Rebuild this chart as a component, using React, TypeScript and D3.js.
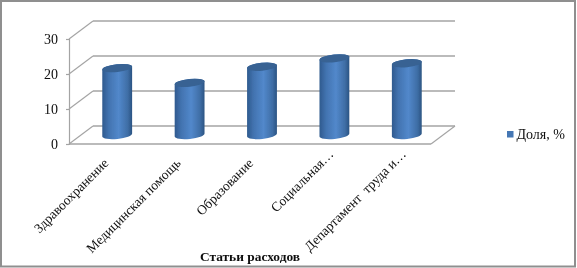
import React, { useRef, useEffect } from "react"
import * as d3 from "d3"

const categories = ["Здравоохранение", "Медицинская помощь", "Образование", "Социальная…", "Департамент  труда и…"]
const shares = [19.1, 14.9, 19.5, 21.9, 20.5]
const yTicks = [0, 10, 20, 30]
const seriesName = "Доля, %"
const axisTitle = "Статьи расходов"

const width = 577
const height = 268
const serif = "'Liberation Serif', serif"
const gridColor = "#a4a4a4"

export default function App() {
    const svgRef = useRef<SVGSVGElement>(null)

    useEffect(() => {
        const svg = d3.select(svgRef.current)
        svg.selectAll("*").remove()

        // front plane of the 3d box and its depth offset
        const left = 69
        const right = 431
        const bottom = 144
        const top = 39
        const depthX = 24
        const depthY = -18

        const xScale = d3.scaleBand().domain(categories).range([left + depthX / 2, right + depthX / 2])
        const yScale = d3.scaleLinear().domain([0, 30]).range([bottom, top])

        const defs = svg.append("defs")
        const grad = defs.append("linearGradient").attr("id", "cyl").attr("x1", 0).attr("x2", 1).attr("y1", 0).attr("y2", 0)
        grad.append("stop").attr("offset", "0%").attr("stop-color", "#2f5a8e")
        grad.append("stop").attr("offset", "22%").attr("stop-color", "#4273b0")
        grad.append("stop").attr("offset", "55%").attr("stop-color", "#5288cb")
        grad.append("stop").attr("offset", "85%").attr("stop-color", "#3f6ea6")
        grad.append("stop").attr("offset", "100%").attr("stop-color", "#2b5483")
        defs.append("filter").attr("id", "soft").append("feGaussianBlur").attr("stdDeviation", 0.35)

        svg.append("rect")
            .attr("x", 1).attr("y", 1)
            .attr("width", 574).attr("height", 265.5)
            .attr("fill", "#fff").attr("stroke", "#8f8f8f").attr("stroke-width", 2)

        const plot = svg.append("g").attr("filter", "url(#soft)")

        // back wall lines and the diagonals on the side wall
        plot.append("g").selectAll("line.back")
            .data(yTicks)
            .join("line")
            .attr("x1", left + depthX).attr("x2", right + depthX)
            .attr("y1", d => yScale(d) + depthY).attr("y2", d => yScale(d) + depthY)
            .attr("stroke", gridColor).attr("stroke-width", 1.7)

        plot.append("g").selectAll("line.side")
            .data(yTicks)
            .join("line")
            .attr("x1", left).attr("x2", left + depthX)
            .attr("y1", d => yScale(d)).attr("y2", d => yScale(d) + depthY)
            .attr("stroke", gridColor).attr("stroke-width", 1.2)

        // floor front edge and right edge
        plot.append("line")
            .attr("x1", left).attr("x2", right).attr("y1", bottom).attr("y2", bottom)
            .attr("stroke", gridColor).attr("stroke-width", 1.7)
        plot.append("line")
            .attr("x1", right).attr("x2", right + depthX).attr("y1", bottom).attr("y2", bottom + depthY)
            .attr("stroke", gridColor).attr("stroke-width", 1.2)

        // value axis
        const yAxis = d3.axisLeft(yScale).tickValues(yTicks).tickSize(3).tickPadding(8).tickFormat(d3.format("d"))
        const yG = plot.append("g").attr("transform", `translate(${left}, 0)`).call(yAxis)
        yG.selectAll("path, line").attr("stroke", gridColor).attr("stroke-width", 1.2)
        yG.selectAll("text").attr("font-family", serif).attr("font-size", 14).attr("fill", "#111")

        // cylinders
        const rx = 15
        const ry = 3.9
        const tilt = -6
        const bars = plot.append("g").selectAll("g")
            .data(categories)
            .join("g")
            .attr("transform", d => `translate(${xScale(d)! + xScale.bandwidth() / 2}, 0)`)

        const baseY = yScale(0) + depthY / 2
        const topY = (i: number) => yScale(shares[i]) + depthY / 2
        const ex = rx * Math.cos(tilt * Math.PI / 180)
        const lift = rx * Math.sin(-tilt * Math.PI / 180)

        bars.append("path")
            .attr("d", (_, i) =>
                `M${-ex},${topY(i) + lift} L${-ex},${baseY + lift} ` +
                `A${rx},${ry} ${tilt} 0 0 ${ex},${baseY - lift} ` +
                `L${ex},${topY(i) - lift} ` +
                `A${rx},${ry} ${tilt} 0 0 ${-ex},${topY(i) + lift} Z`)
            .attr("fill", "url(#cyl)")
        bars.append("ellipse")
            .attr("rx", rx).attr("ry", ry)
            .attr("transform", (_, i) => `translate(0, ${topY(i)}) rotate(${tilt})`)
            .attr("fill", "#376293")

        // category labels, the cut ones sit a little further along the axis
        const labels = svg.append("g").attr("filter", "url(#soft)")
        labels.selectAll("text.cat")
            .data(categories)
            .join("text")
            .attr("transform", d => {
                const cut = d.endsWith("…")
                const x = xScale(d)! + xScale.bandwidth() / 2 + (cut ? 0 : -8)
                return `translate(${x}, ${cut ? 155 : 164}) rotate(-45)`
            })
            .attr("text-anchor", "end")
            .attr("font-family", serif)
            .attr("font-size", 13.5)
            .attr("fill", "#111")
            .style("white-space", "pre")
            .text(d => d)

        labels.append("text")
            .attr("x", 250).attr("y", 261)
            .attr("text-anchor", "middle")
            .attr("font-family", serif)
            .attr("font-size", 13.4)
            .attr("font-weight", "bold")
            .attr("fill", "#111")
            .text(axisTitle)

        // legend
        labels.append("rect")
            .attr("x", 507).attr("y", 131).attr("width", 6.5).attr("height", 6.5)
            .attr("fill", "#4477b4")
        labels.append("text")
            .attr("x", 516.5).attr("y", 139)
            .attr("font-family", serif)
            .attr("font-size", 14)
            .attr("fill", "#111")
            .text(seriesName)
    }, [])

    return (
        <svg
            ref={svgRef}
            width={width}
            height={height}
            style={{ position: "absolute", left: 0, top: 0, background: "#fff" }}
        />
    )
}
